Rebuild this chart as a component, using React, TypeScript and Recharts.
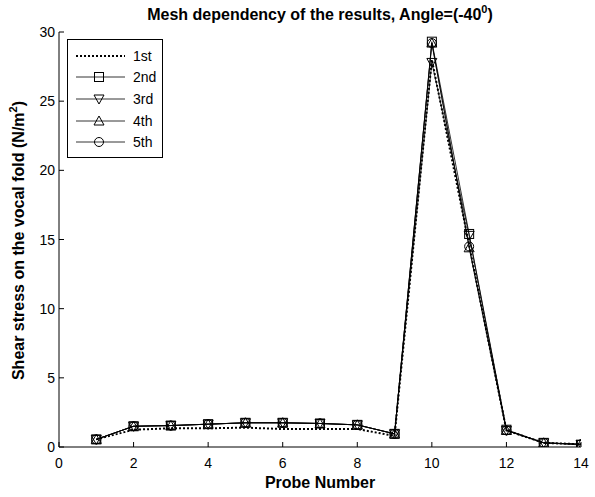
import React from "react";
import { LineChart, Line, XAxis, YAxis, Legend } from "recharts";

// probe index along the fold
const probes = [1, 2, 3, 4, 5, 6, 7, 8, 9, 10, 11, 12, 13, 14];

// shear stress (N/m^2) for each mesh refinement
const mesh1 = [0.55, 1.25, 1.35, 1.35, 1.4, 1.3, 1.3, 1.3, 0.8, 28.0, 14.6, 1.2, 0.3, 0.2];
const mesh2 = [0.55, 1.5, 1.55, 1.65, 1.75, 1.75, 1.7, 1.6, 0.95, 29.3, 15.4, 1.25, 0.3, 0.15];
const mesh3 = [0.55, 1.5, 1.55, 1.65, 1.75, 1.75, 1.7, 1.6, 0.95, 27.8, 15.3, 1.2, 0.3, 0.2];
const mesh4 = [0.55, 1.5, 1.55, 1.65, 1.75, 1.75, 1.7, 1.6, 0.95, 29.2, 14.4, 1.2, 0.3, 0.2];
const mesh5 = [0.55, 1.5, 1.55, 1.65, 1.75, 1.75, 1.7, 1.6, 0.95, 29.2, 14.5, 1.2, 0.3, 0.2];

const xTicks = [0, 2, 4, 6, 8, 10, 12, 14];
const yTicks = [0, 5, 10, 15, 20, 25, 30];

const data = probes.map((p, i) => ({
  probe: p,
  m1: mesh1[i],
  m2: mesh2[i],
  m3: mesh3[i],
  m4: mesh4[i],
  m5: mesh5[i],
}));

type Shape = "none" | "square" | "down" | "up" | "circle";

const series: { key: string; name: string; shape: Shape; dotted: boolean }[] = [
  { key: "m1", name: "1st", shape: "none", dotted: true },
  { key: "m2", name: "2nd", shape: "square", dotted: false },
  { key: "m3", name: "3rd", shape: "down", dotted: false },
  { key: "m4", name: "4th", shape: "up", dotted: false },
  { key: "m5", name: "5th", shape: "circle", dotted: false },
];

const FONT = "'Liberation Sans', Arial, sans-serif";

function Marker({ cx, cy, shape }: { cx: number; cy: number; shape: Shape }) {
  const s = 4.5;
  const common = { fill: "none", stroke: "#000", strokeWidth: 1 };
  if (shape === "square") return <rect x={cx - s} y={cy - s} width={2 * s} height={2 * s} {...common} />;
  if (shape === "circle") return <circle cx={cx} cy={cy} r={s} {...common} />;
  if (shape === "down")
    return <polygon points={`${cx - 5},${cy - 4} ${cx + 5},${cy - 4} ${cx},${cy + 5}`} {...common} />;
  if (shape === "up")
    return <polygon points={`${cx - 5},${cy + 4} ${cx + 5},${cy + 4} ${cx},${cy - 5}`} {...common} />;
  return null;
}

// inward tick marks in the MATLAB style, with labels where needed
const BottomTick = (props: any) => {
  const { x, y, payload } = props;
  return (
    <g>
      <line x1={x} y1={y} x2={x} y2={y - 5} stroke="#000" />
      <text x={x} y={y + 21} textAnchor="middle" fontSize={14} fontFamily={FONT} fill="#000">
        {payload.value}
      </text>
    </g>
  );
};

const TopTick = (props: any) => {
  const { x, y } = props;
  return <line x1={x} y1={y} x2={x} y2={y + 5} stroke="#000" />;
};

const LeftTick = (props: any) => {
  const { x, y, payload } = props;
  return (
    <g>
      <line x1={x} y1={y} x2={x + 5} y2={y} stroke="#000" />
      <text x={x - 4} y={y + 5} textAnchor="end" fontSize={14} fontFamily={FONT} fill="#000">
        {payload.value}
      </text>
    </g>
  );
};

const RightTick = (props: any) => {
  const { x, y } = props;
  return <line x1={x} y1={y} x2={x - 5} y2={y} stroke="#000" />;
};

function LegendBox() {
  return (
    <div
      style={{
        width: 96,
        height: 119,
        border: "1px solid #000",
        background: "#fff",
        boxSizing: "border-box",
        fontFamily: FONT,
        fontSize: 14,
        paddingTop: 5,
      }}
    >
      {series.map((s) => (
        <div key={s.key} style={{ display: "flex", alignItems: "center", height: 21.6 }}>
          <svg width={64} height={14} style={{ display: "block" }}>
            <line
              x1={8}
              y1={7}
              x2={57}
              y2={7}
              stroke="#000"
              strokeWidth={s.dotted ? 2 : 0.8}
              strokeDasharray={s.dotted ? "2 2" : undefined}
            />
            <Marker cx={31} cy={7} shape={s.shape} />
          </svg>
          <span style={{ marginLeft: 1 }}>{s.name}</span>
        </div>
      ))}
    </div>
  );
}

const labelStyle: React.CSSProperties = {
  position: "absolute",
  textAlign: "center",
  fontFamily: FONT,
  fontWeight: "bold",
  fontSize: 16,
  lineHeight: "20px",
  whiteSpace: "nowrap",
};

export default function App() {
  return (
    <div style={{ position: "absolute", left: 0, top: 0, width: 595, height: 497, background: "#fff" }}>
      <LineChart
        width={595}
        height={497}
        data={data}
        margin={{ top: 32, right: 14, left: 19, bottom: 20 }}
      >
        <XAxis
          dataKey="probe"
          type="number"
          domain={[0, 14]}
          ticks={xTicks}
          allowDataOverflow
          height={30}
          tickSize={0}
          tickMargin={0}
          tickLine={false}
          axisLine={{ stroke: "#000" }}
          tick={<BottomTick />}
          interval={0}
        />
        <XAxis
          xAxisId="top"
          orientation="top"
          type="number"
          domain={[0, 14]}
          ticks={xTicks}
          allowDataOverflow
          height={0}
          tickSize={0}
          tickMargin={0}
          tickLine={false}
          axisLine={{ stroke: "#000" }}
          tick={<TopTick />}
          interval={0}
        />
        <YAxis
          type="number"
          domain={[0, 30]}
          ticks={yTicks}
          allowDataOverflow
          width={40}
          tickSize={0}
          tickMargin={0}
          tickLine={false}
          axisLine={{ stroke: "#000" }}
          tick={<LeftTick />}
          interval={0}
        />
        <YAxis
          yAxisId="right"
          orientation="right"
          type="number"
          domain={[0, 30]}
          ticks={yTicks}
          allowDataOverflow
          width={0}
          tickSize={0}
          tickMargin={0}
          tickLine={false}
          axisLine={{ stroke: "#000" }}
          tick={<RightTick />}
          interval={0}
        />
        <Legend
          layout="vertical"
          align="center"
          verticalAlign="middle"
          wrapperStyle={{ left: 67, top: 39, width: 96, height: 119 }}
          content={() => <LegendBox />}
        />
        {series.map((s) => (
          <Line
            key={s.key}
            dataKey={s.key}
            name={s.name}
            type="linear"
            stroke="#000"
            strokeWidth={s.dotted ? 2 : 0.8}
            strokeDasharray={s.dotted ? "2 2" : undefined}
            isAnimationActive={false}
            dot={(p: any) => <Marker key={`${s.key}-${p.index}`} cx={p.cx} cy={p.cy} shape={s.shape} />}
            activeDot={false}
          />
        ))}
      </LineChart>

      <div style={{ ...labelStyle, left: 59, width: 522, top: 5 }}>
        Mesh dependency of the results, Angle=(-40
        <span style={{ fontSize: 11, position: "relative", top: -7 }}>0</span>)
      </div>

      <div style={{ ...labelStyle, left: 59, width: 522, top: 473 }}>Probe Number</div>

      <div
        style={{
          ...labelStyle,
          left: 19 - 200,
          top: 240 - 10,
          width: 400,
          transform: "rotate(-90deg)",
          transformOrigin: "center",
        }}
      >
        Shear stress on the vocal fold (N/m
        <span style={{ fontSize: 11, position: "relative", top: -7 }}>2</span>)
      </div>
    </div>
  );
}
